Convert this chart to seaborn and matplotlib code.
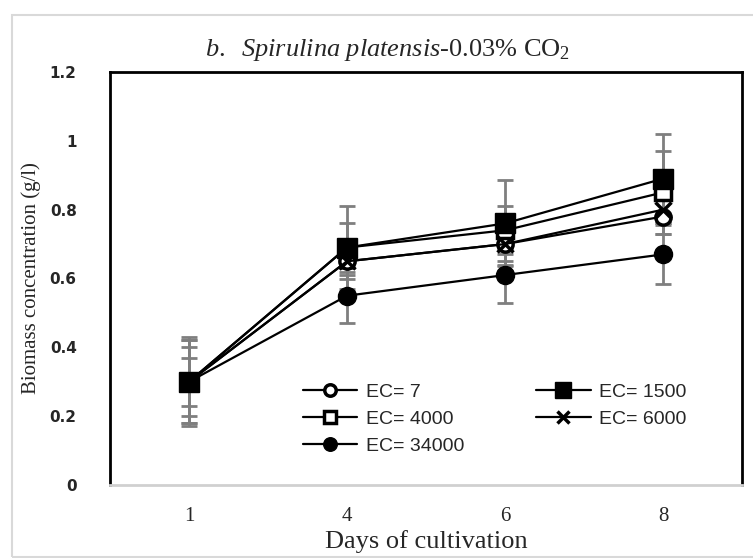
import matplotlib
matplotlib.use("Agg")
import matplotlib.pyplot as plt
import seaborn as sns
import pandas as pd
from matplotlib.lines import Line2D
from matplotlib.patches import Rectangle

days = [1, 4, 6, 8]
draw_order = ["EC= 7", "EC= 4000", "EC= 34000", "EC= 6000", "EC= 1500"]
legend_order = ["EC= 7", "EC= 4000", "EC= 34000", "EC= 1500", "EC= 6000"]
ec7 = [0.30, 0.65, 0.70, 0.78]
ec1500 = [0.30, 0.69, 0.76, 0.89]
ec4000 = [0.30, 0.69, 0.74, 0.85]
ec6000 = [0.30, 0.65, 0.70, 0.80]
ec34000 = [0.30, 0.55, 0.61, 0.67]
err7 = [0.12, 0.05, 0.06, 0.05]
err1500 = [0.13, 0.12, 0.125, 0.13]
err4000 = [0.10, 0.07, 0.07, 0.12]
err6000 = [0.07, 0.04, 0.05, 0.04]
err34000 = [0.12, 0.08, 0.08, 0.085]
yticks = [0, 0.2, 0.4, 0.6, 0.8, 1.0, 1.2]
ytick_labels = ["0", "0.2", "0.4", "0.6", "0.8", "1", "1.2"]

values = {"EC= 7": ec7, "EC= 1500": ec1500, "EC= 4000": ec4000,
          "EC= 6000": ec6000, "EC= 34000": ec34000}
errors = {"EC= 7": err7, "EC= 1500": err1500, "EC= 4000": err4000,
          "EC= 6000": err6000, "EC= 34000": err34000}
styles = {
    "EC= 7": dict(marker="o", mfc="white", ms=11, mew=2.5),
    "EC= 4000": dict(marker="s", mfc="white", ms=11, mew=2.5),
    "EC= 34000": dict(marker="o", mfc="black", ms=13, mew=1),
    "EC= 6000": dict(marker="x", mfc="black", ms=11, mew=2.5),
    "EC= 1500": dict(marker="s", mfc="black", ms=15, mew=1),
}

rows = []
for name in draw_order:
    for i, d in enumerate(days):
        rows.append({"series": name, "pos": i, "day": d,
                     "value": values[name][i], "err": errors[name][i]})
df = pd.DataFrame(rows)

sns.set_style("white")
plt.rcParams["mathtext.fontset"] = "custom"
plt.rcParams["mathtext.rm"] = "Liberation Serif"
plt.rcParams["mathtext.it"] = "Liberation Serif:italic"

fig = plt.figure(figsize=(7.53, 5.58), dpi=100)
ax = fig.add_axes([110 / 753, 1 - 485 / 558, 632 / 753, 413 / 558])

for name in draw_order:
    sub = df[df.series == name]
    ax.errorbar(sub["pos"], sub["value"], yerr=sub["err"], fmt="none",
                ecolor="#7f7f7f", elinewidth=2, capsize=6, capthick=2, zorder=2)

handles = {}
for k, name in enumerate(draw_order):
    sub = df[df.series == name]
    st = styles[name]
    sns.lineplot(data=sub, x="pos", y="value", ax=ax, color="black",
                 linewidth=1.6, marker=st["marker"], markersize=st["ms"],
                 markerfacecolor=st["mfc"], markeredgecolor="black",
                 markeredgewidth=st["mew"], zorder=3 + k, legend=False)
    handles[name] = Line2D([0], [0], color="black", lw=1.6, marker=st["marker"],
                           markersize=st["ms"] * 0.75, markerfacecolor=st["mfc"],
                           markeredgecolor="black", markeredgewidth=st["mew"])

ax.set_xlim(-0.5, 3.5)
ax.set_ylim(0, 1.2)
ax.set_xticks(range(len(days)))
ax.set_xticklabels([str(d) for d in days], family="Liberation Serif", fontsize=15)
ax.set_yticks(yticks)
ax.set_yticklabels(ytick_labels, family="DejaVu Sans", fontsize=11,
                   fontweight="bold")
ax.tick_params(axis="both", length=0)
ax.tick_params(axis="y", pad=24)
ax.tick_params(axis="x", pad=16)
ax.set_xlabel("Days of cultivation", family="Liberation Serif", fontsize=19,
              labelpad=3)
ax.set_ylabel("Biomass concentration (g/l)", family="Liberation Serif",
              fontsize=15, labelpad=6)

for s in ["left", "top", "right"]:
    ax.spines[s].set_color("black")
    ax.spines[s].set_linewidth(2)
ax.spines["bottom"].set_color("#d0d0d0")
ax.spines["bottom"].set_linewidth(2)

ax.legend([handles[n] for n in legend_order], legend_order, ncol=2,
          frameon=False, loc="upper left", bbox_to_anchor=(0.305, 0.247),
          borderpad=0, borderaxespad=0,
          prop={"family": "Liberation Sans", "size": 14},
          handlelength=2.8, columnspacing=3.7, labelspacing=0.5,
          handletextpad=0.45)

fig.text(388 / 753, 1 - 50 / 558,
         r"$\it{b.\ \ Spirulina\ platensis}$" + "-0.03% CO$_2$",
         ha="center", va="center", family="Liberation Serif", fontsize=19)

fig.patches.append(Rectangle((12 / 753, 1 / 558), 745 / 753, 542 / 558,
                             transform=fig.transFigure, fill=False,
                             edgecolor="#d9d9d9", linewidth=1.5))

fig.savefig("out.png", dpi=100)
